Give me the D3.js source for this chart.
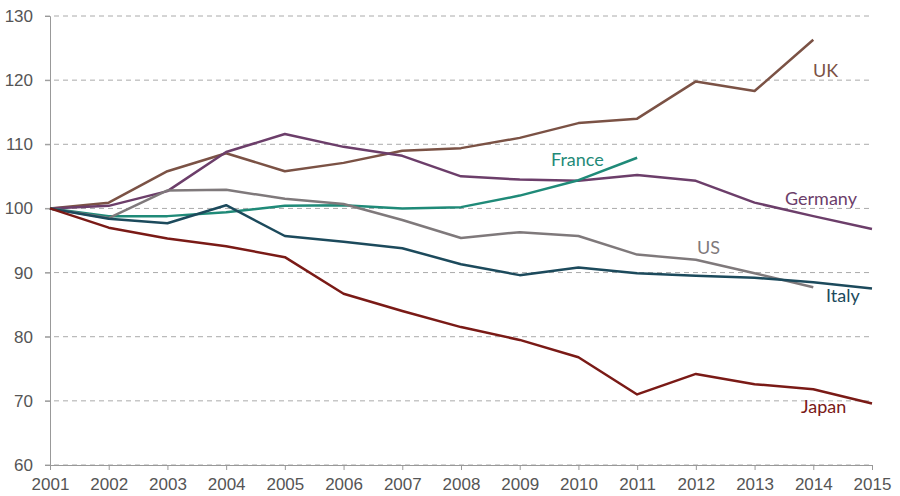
<!DOCTYPE html>
<html>
<head>
<meta charset="utf-8">
<script src="https://cdn.jsdelivr.net/npm/d3@7"></script>
<style>
  body { margin: 0; background: #fff; }
  svg { font-family: Lato, 'Noto Sans', sans-serif; }
  .tick text { fill: #555; font-size: 17px; }
</style>
</head>
<body>
<svg width="900" height="496"></svg>
<script>
const w = 900;
const h = 496;
const margin = { top: 16, right: 28, bottom: 31, left: 50 };

const years = d3.range(2001, 2016);
const yTicks = [60, 70, 80, 90, 100, 110, 120, 130];

// index values, 2001 = 100
const uk = [100, 100.9, 105.8, 108.6, 105.8, 107.1, 109.0, 109.4, 111.0, 113.3, 114.0, 119.8, 118.3, 126.3];
const germany = [100, 100.4, 102.7, 108.8, 111.6, 109.6, 108.2, 105.0, 104.5, 104.3, 105.2, 104.3, 100.9, 98.8, 96.8];
const france = [100, 98.8, 98.8, 99.4, 100.4, 100.5, 100.0, 100.2, 102.0, 104.4, 107.9];
const us = [100, 98.5, 102.8, 102.9, 101.5, 100.7, 98.2, 95.4, 96.3, 95.7, 92.8, 92.0, 89.9, 87.7];
const italy = [100, 98.4, 97.7, 100.5, 95.7, 94.8, 93.8, 91.3, 89.6, 90.8, 89.9, 89.5, 89.2, 88.5, 87.5];
const japan = [100, 97.0, 95.3, 94.1, 92.4, 86.7, 84.0, 81.5, 79.5, 76.8, 71.0, 74.2, 72.6, 71.8, 69.6];

const series = [
  { name: 'UK', values: uk, color: '#7b5245', lx: 813, ly: 71 },
  { name: 'Germany', values: germany, color: '#6c3e6a', lx: 785, ly: 199 },
  { name: 'France', values: france, color: '#1f8a78', lx: 551, ly: 160 },
  { name: 'US', values: us, color: '#7f797b', lx: 697, ly: 248 },
  { name: 'Italy', values: italy, color: '#1c4a5c', lx: 826, ly: 296 },
  { name: 'Japan', values: japan, color: '#7a1a16', lx: 801, ly: 407 }
];

const svg = d3.select('svg');

const x = d3.scaleLinear().domain([2001, 2015]).range([margin.left, w - margin.right]);
const y = d3.scaleLinear().domain([60, 130]).range([h - margin.bottom, margin.top]);

// dashed gridlines
svg.append('g')
  .selectAll('line')
  .data(yTicks)
  .enter()
  .append('line')
  .attr('x1', margin.left - 5)
  .attr('x2', w - margin.right)
  .attr('y1', d => y(d))
  .attr('y2', d => y(d))
  .attr('stroke', '#aaa')
  .attr('stroke-width', 1)
  .attr('stroke-dasharray', '5,4');

// y axis
const yAxis = svg.append('g')
  .attr('transform', `translate(${margin.left},0)`)
  .call(d3.axisLeft(y).tickValues(yTicks).tickSize(5).tickPadding(12));
yAxis.select('.domain').attr('stroke', '#999');
yAxis.selectAll('.tick line').attr('stroke', '#999');

// x axis
const xAxis = svg.append('g')
  .attr('transform', `translate(0,${h - margin.bottom})`)
  .call(d3.axisBottom(x).tickValues(years).tickFormat(d3.format('d')).tickSize(5).tickPadding(8));
xAxis.select('.domain').attr('stroke', '#999');
xAxis.selectAll('.tick line').attr('stroke', '#999');

const line = d3.line()
  .x((d, i) => x(years[i]))
  .y(d => y(d));

svg.append('g')
  .selectAll('path')
  .data(series)
  .enter()
  .append('path')
  .attr('fill', 'none')
  .attr('stroke', d => d.color)
  .attr('stroke-width', 2.5)
  .attr('stroke-linejoin', 'round')
  .attr('d', d => line(d.values));

svg.append('g')
  .selectAll('text')
  .data(series)
  .enter()
  .append('text')
  .attr('x', d => d.lx)
  .attr('y', d => d.ly)
  .attr('dy', '0.35em')
  .attr('fill', d => d.color)
  .attr('font-size', 18)
  .text(d => d.name);
</script>
</body>
</html>
